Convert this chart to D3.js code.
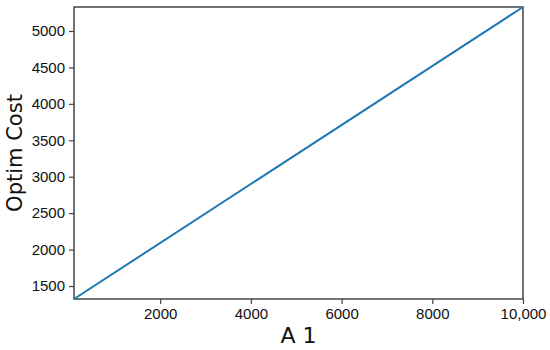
<!DOCTYPE html>
<html><head><meta charset="utf-8">
<script src="https://cdn.jsdelivr.net/npm/d3@7"></script>
<style>body{margin:0;background:#fff}</style>
</head><body>
<script>
const a1Values = [100, 10000];
const costValues = [1322, 5329];
const xTicks = [2000, 4000, 6000, 8000, 10000];
const yTicks = [1500, 2000, 2500, 3000, 3500, 4000, 4500, 5000];
const xLabel = "A 1";
const yLabel = "Optim Cost";

const W = 550, H = 350;
const m = {l: 74, r: 27, t: 7, b: 51};
const svg = d3.select("body").append("svg").attr("width", W).attr("height", H);
const x = d3.scaleLinear().domain([100, 10000]).range([m.l, W - m.r]);
const y = d3.scaleLinear().domain([1322, 5329]).range([H - m.b, m.t]);

const fmt = d => d >= 10000 ? d3.format(",")(d) : String(d);
const ax = svg.append("g").attr("transform", `translate(0,${H - m.b})`)
  .call(d3.axisBottom(x).tickValues(xTicks).tickFormat(fmt).tickSize(5).tickPadding(4));
const ay = svg.append("g").attr("transform", `translate(${m.l},0)`)
  .call(d3.axisLeft(y).tickValues(yTicks).tickFormat(fmt).tickSize(5).tickPadding(4));
[ax, ay].forEach(g => {
  g.selectAll("text").attr("font-family", "Liberation Sans, Arial, sans-serif").attr("font-size", 15).attr("fill", "#111");
  g.selectAll("line").attr("stroke", "#444").attr("stroke-width", 1.2);
  g.select(".domain").remove();
});

svg.append("rect").attr("x", m.l).attr("y", m.t)
  .attr("width", W - m.l - m.r).attr("height", H - m.t - m.b)
  .attr("fill", "none").attr("stroke", "#444").attr("stroke-width", 1.5);

const line = d3.line().x((d, i) => x(a1Values[i])).y(d => y(d));
svg.append("path").datum(costValues).attr("d", line)
  .attr("fill", "none").attr("stroke", "#1f77b4").attr("stroke-width", 2);

svg.append("text").attr("x", (m.l + W - m.r) / 2).attr("y", 343)
  .attr("text-anchor", "middle").attr("font-family", "DejaVu Sans, sans-serif")
  .attr("font-size", 22).attr("fill", "#111").text(xLabel);
svg.append("text").attr("transform", `translate(22,${(m.t + H - m.b) / 2}) rotate(-90)`)
  .attr("text-anchor", "middle").attr("font-family", "DejaVu Sans, sans-serif")
  .attr("font-size", 21).attr("fill", "#111").text(yLabel);
</script>
</body></html>
